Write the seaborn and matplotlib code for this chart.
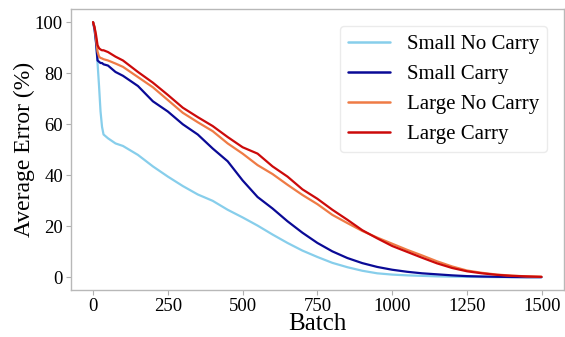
import numpy as np
import pandas as pd
import matplotlib
matplotlib.use("Agg")
import matplotlib.pyplot as plt
import seaborn as sns

# ---------------------------------------------------------------
# data read off the reference (sampled batches)
# ---------------------------------------------------------------
batches = [0, 5, 10, 15, 20, 25, 30, 35, 50, 75, 100, 150, 200, 250, 300, 350,
           400, 450, 500, 550, 600, 650, 700, 750, 800, 850, 900, 950, 1000,
           1050, 1100, 1150, 1200, 1250, 1300, 1350, 1400, 1450, 1499]

small_no_carry = [100, 98, 92, 84, 75, 65, 59, 56, 54.5, 52.5, 51.5, 48, 43.5,
                  39.5, 35.8, 32.5, 30, 26.5, 23.5, 20.3, 16.8, 13.5, 10.5, 8,
                  5.7, 4, 2.6, 1.6, 1.1, 0.8, 0.6, 0.4, 0.3, 0.2, 0.15, 0.1,
                  0.1, 0.05, 0.05]

small_carry = [100, 97, 92, 85, 84.5, 84, 84, 83.5, 83, 80.5, 79, 75, 69, 65,
               60, 56, 50.5, 45.5, 38, 31.5, 27, 22, 17.5, 13.5, 10.2, 7.6,
               5.6, 4.1, 3, 2.2, 1.6, 1.2, 0.8, 0.5, 0.35, 0.25, 0.15, 0.1, 0.1]

large_no_carry = [100, 98, 93.5, 88.5, 86.5, 86, 85.8, 85.5, 85, 83.8, 82.5,
                  78.5, 74.5, 69.5, 64.5, 60.8, 57.3, 52.5, 48.5, 44, 40.5,
                  36.3, 32.3, 28.7, 24.5, 21.3, 18.2, 15.6, 13.2, 10.8, 8.6,
                  6.3, 4.3, 2.7, 1.8, 1.1, 0.7, 0.4, 0.3]

large_carry = [100, 98, 95, 91, 89.8, 89.3, 89, 89, 88.3, 86.5, 85, 80.5, 76.3,
               71.5, 66.5, 62.8, 59.3, 55, 51, 48.5, 43.5, 39.5, 34.5, 30.8,
               26.5, 22.6, 18.5, 15.3, 12.3, 10, 7.7, 5.5, 3.7, 2.4, 1.6, 1.0,
               0.6, 0.4, 0.2]

labels = ["Small No Carry", "Small Carry", "Large No Carry", "Large Carry"]
colors = ["#87CEEB", "#0A0A96", "#EF7B45", "#CC0A0A"]

# ---------------------------------------------------------------
# long-form table for seaborn
# ---------------------------------------------------------------
series = [small_no_carry, small_carry, large_no_carry, large_carry]
df = pd.concat(
    [pd.DataFrame({"Batch": batches, "Error": vals, "Model": name})
     for name, vals in zip(labels, series)],
    ignore_index=True)

sns.set_style("white")
plt.rcParams["font.family"] = ["Liberation Serif", "DejaVu Serif"]
plt.rcParams["text.color"] = "black"
plt.rcParams["axes.labelcolor"] = "black"
plt.rcParams["xtick.color"] = "black"
plt.rcParams["ytick.color"] = "black"

fig, ax = plt.subplots(figsize=(5.65, 3.37), dpi=100)
fig.subplots_adjust(left=0.125, right=0.998, top=0.972, bottom=0.139)

sns.lineplot(data=df, x="Batch", y="Error", hue="Model", hue_order=labels,
             palette=dict(zip(labels, colors)), linewidth=1.6, ax=ax)

ax.set_xticks([0, 250, 500, 750, 1000, 1250, 1500])
ax.set_yticks([0, 20, 40, 60, 80, 100])
ax.set_xlim(-75, 1574)
ax.set_ylim(-5, 105)
ax.set_xlabel("Batch", fontsize=18, labelpad=-1)
ax.set_ylabel("Average Error (%)", fontsize=17, labelpad=0)
ax.tick_params(axis="both", labelsize=13.5, length=3.5, width=0.8,
               color="#b0b0b0", labelcolor="black", bottom=True, left=True,
               pad=2)
for s in ax.spines.values():
    s.set_color("#b8b8b8")
    s.set_linewidth(1.0)

leg = ax.legend(loc="upper right", fontsize=15, frameon=True,
                handlelength=2.0, borderaxespad=0.8)
leg.get_frame().set_edgecolor("#e6e6e6")
for line in leg.get_lines():
    line.set_linewidth(1.8)
for t in leg.get_texts():
    t.set_color("black")

plt.savefig("out.png", dpi=100)
